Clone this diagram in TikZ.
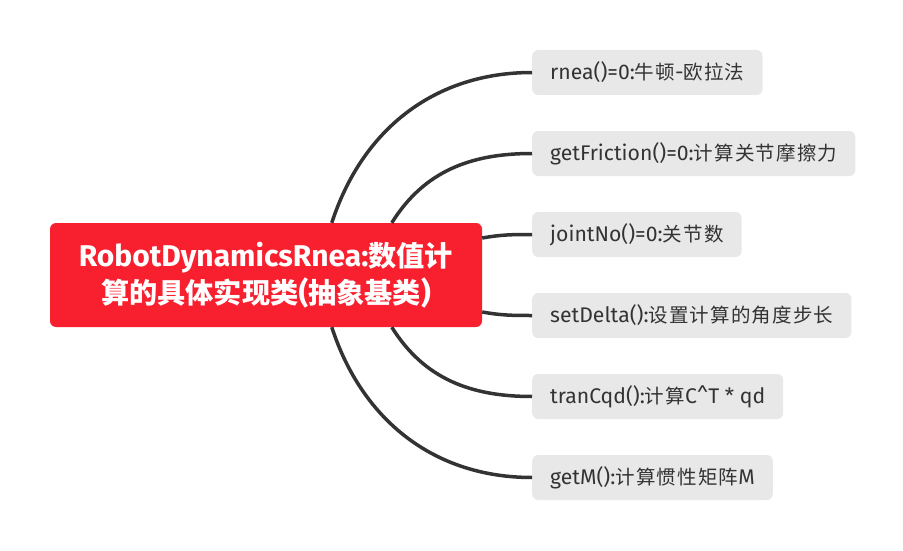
\documentclass[tikz,border=0pt]{standalone}
\usepackage{fontspec}
\setmainfont{Fira Sans}
\newfontfamily\cjk[Scale=0.94]{Noto Sans CJK SC}
\newfontfamily\cjkleaf[LetterSpace=6,Scale=0.92]{Noto Sans CJK SC}
\newcommand{\zh}[1]{{\cjk #1}}
\newcommand{\zl}[1]{{\cjkleaf #1}}
\definecolor{rootred}{HTML}{F8202E}
\definecolor{leafgray}{HTML}{E8E8E8}
\definecolor{linkgray}{HTML}{333333}

\begin{document}
\begin{tikzpicture}[x=1pt,y=1pt,
	root/.style={fill=rootred, rounded corners=6pt, minimum width=432pt, minimum height=104pt, text=white, align=center, font=\fontsize{30}{37}\selectfont\bfseries},
	leaf/.style={fill=leafgray, rounded corners=6pt, anchor=west, minimum height=45pt, inner xsep=18pt, text=linkgray, font=\fontsize{21.2}{22}\selectfont},
	link/.style={draw=linkgray, line width=3.5pt}]
		\useasboundingbox (0,0) rectangle (903,-551);
		\node[root] (root) at (266,-275) {RobotDynamicsRnea:\zh{数值计}\\\zh{算的具体实现类}(\zh{抽象基类})};
		\node[leaf] (rnea) at (532,-72.5) {rnea()=0:\zl{牛顿}-\zl{欧拉法}};
		\node[leaf] (fric) at (532,-153.5) {getFriction()=0:\zl{计算关节摩擦力}};
		\node[leaf] (joint) at (532,-234.5) {jointNo()=0:\zl{关节数}};
		\node[leaf] (delta) at (532,-315.5) {setDelta():\zl{设置计算的角度步长}};
		\node[leaf] (cqd) at (532,-396.5) {tranCqd():\zl{计算}C\^{}T * qd};
		\node[leaf] (mass) at (532,-477.5) {getM():\zl{计算惯性矩阵}M};
		% ends on the root box
		\coordinate (t1) at ([xshift=282pt]root.north west);
		\coordinate (t2) at ([xshift=342pt]root.north west);
		\coordinate (t3) at ([yshift=37pt]root.east);
		\coordinate (b3) at ([yshift=-37pt]root.east);
		\coordinate (b2) at ([xshift=342pt]root.south west);
		\coordinate (b1) at ([xshift=282pt]root.south west);
		\draw[link] (t1) to[out=72,in=180] (rnea.west);
		\draw[link] (t2) to[out=58,in=180] (fric.west);
		\draw[link] (t3) to[out=10,in=180] (joint.west);
		\draw[link] (b3) to[out=-10,in=180] (delta.west);
		\draw[link] (b2) to[out=-58,in=180] (cqd.west);
		\draw[link] (b1) to[out=-72,in=180] (mass.west);
	\end{tikzpicture}
\end{document}
